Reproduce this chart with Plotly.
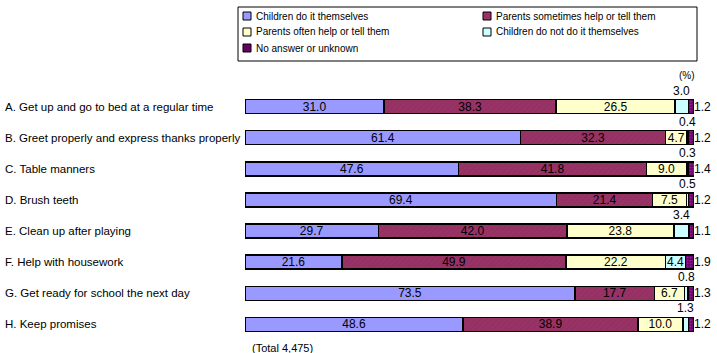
import plotly.graph_objects as go

categories = [
    "A. Get up and go to bed at a regular time",
    "B. Greet properly and express thanks properly",
    "C. Table manners",
    "D. Brush teeth",
    "E. Clean up after playing",
    "F. Help with housework",
    "G. Get ready for school the next day",
    "H. Keep promises",
]
series_names = [
    "Children do it themselves",
    "Parents sometimes help or tell them",
    "Parents often help or tell them",
    "Children do not do it themselves",
    "No answer or unknown",
]
children_themselves = [31.0, 61.4, 47.6, 69.4, 29.7, 21.6, 73.5, 48.6]
parents_sometimes = [38.3, 32.3, 41.8, 21.4, 42.0, 49.9, 17.7, 38.9]
parents_often = [26.5, 4.7, 9.0, 7.5, 23.8, 22.2, 6.7, 10.0]
children_not = [3.0, 0.4, 0.3, 0.5, 3.4, 4.4, 0.8, 1.3]
no_answer = [1.2, 1.2, 1.4, 1.2, 1.1, 1.9, 1.3, 1.2]
total_note = "(Total 4,475)"
unit_note = "(%)"

FONT = "Liberation Sans"
W, H = 717, 353
ML, MR, MT, MB = 245, 23, 91, 13
PW = W - ML - MR
PH = H - MT - MB
XMAX = 100.0


def px(xp):
    return (xp - ML) / PW


def py(yp):
    return (H - MB - yp) / PH


fig = go.Figure()
series = [children_themselves, parents_sometimes, parents_often, children_not, no_answer]
colors = ["#9999FF", "#993366", "#FFFFCC", "#CCFFFF", "#660066"]
patterns = [
    None,
    dict(shape="/", fgcolor="#8a2c5c", bgcolor="#993366", size=4, solidity=0.3),
    None,
    None,
    dict(shape=".", fgcolor="#cc33cc", bgcolor="#660066", size=3, solidity=0.4),
]
for i, (name, vals) in enumerate(zip(series_names, series)):
    if i < 3:
        text = [f"{v:.1f}" for v in vals]
    elif i == 3:
        text = [f"{v:.1f}" if v >= 4 else "" for v in vals]
    else:
        text = ["" for v in vals]
    marker = dict(color=colors[i], line=dict(color="black", width=1.5))
    if patterns[i]:
        marker["pattern"] = patterns[i]
    fig.add_trace(go.Bar(
        y=categories, x=vals, name=name, orientation="h",
        marker=marker, width=0.45, showlegend=False,
        text=text, textposition="inside", insidetextanchor="middle",
        textangle=0,
        textfont=dict(family=FONT, size=12, color="black"),
        constraintext="none",
    ))

annotations = []
shapes = []
for j, cat in enumerate(categories):
    cum = children_themselves[j] + parents_sometimes[j] + parents_often[j]
    v = children_not[j]
    if v < 4:
        annotations.append(dict(
            x=cum + v / 2, y=cat, xref="x", yref="y", text=f"{v:.1f}",
            showarrow=False, yshift=16, font=dict(family=FONT, size=12, color="black"),
        ))
    tot = min(cum + v + no_answer[j], XMAX)
    annotations.append(dict(
        x=tot, y=cat, xref="x", yref="y", text=f"{no_answer[j]:.1f}",
        showarrow=False, xanchor="left", xshift=-2,
        font=dict(family=FONT, size=12, color="black"),
    ))
    annotations.append(dict(
        x=px(4), y=cat, xref="paper", yref="y", text=cat,
        showarrow=False, xanchor="left", xshift=-1,
        font=dict(family=FONT, size=11.5, color="black"),
    ))

annotations.append(dict(
    x=px(250), y=0, xref="paper", yref="paper", text=total_note,
    showarrow=False, xanchor="left", yanchor="top", yshift=0,
    font=dict(family=FONT, size=11, color="black"),
))
annotations.append(dict(
    x=1, y=1, xref="paper", yref="paper", text=unit_note,
    showarrow=False, xanchor="right", yanchor="bottom", yshift=8, xshift=3,
    font=dict(family=FONT, size=10, color="black"),
))

# legend box (drawn in paper coordinates)
shapes.append(dict(type="rect", xref="paper", yref="paper",
                   x0=px(238), x1=px(697), y0=py(61), y1=py(7),
                   line=dict(color="black", width=1), fillcolor="white", layer="above"))
legend_pos = [(243, 16), (483, 16), (243, 32), (483, 32), (243, 48)]
for (lx, ly), name, c in zip(legend_pos, series_names, colors):
    shapes.append(dict(type="rect", xref="paper", yref="paper",
                       x0=px(lx), x1=px(lx + 8), y0=py(ly + 4), y1=py(ly - 4),
                       line=dict(color="black", width=1), fillcolor=c, layer="above"))
    annotations.append(dict(
        x=px(lx + 11), y=py(ly), xref="paper", yref="paper", text=name,
        showarrow=False, xanchor="left", yanchor="middle",
        font=dict(family=FONT, size=10, color="black"),
    ))

fig.update_layout(
    width=W, height=H,
    margin=dict(l=ML, r=MR, t=MT, b=MB, pad=0, autoexpand=False),
    barmode="stack", bargap=0.55,
    paper_bgcolor="white", plot_bgcolor="white",
    font=dict(family=FONT, size=12, color="black"),
    xaxis=dict(range=[0, XMAX], visible=False, fixedrange=True),
    yaxis=dict(categoryorder="array", categoryarray=categories,
               range=[len(categories) - 0.5, -0.5], autorange=False,
               visible=False, showticklabels=False, fixedrange=True),
    showlegend=False,
    annotations=annotations,
    shapes=shapes,
    uniformtext=dict(minsize=8, mode="show"),
)

fig.write_html("out.html")
